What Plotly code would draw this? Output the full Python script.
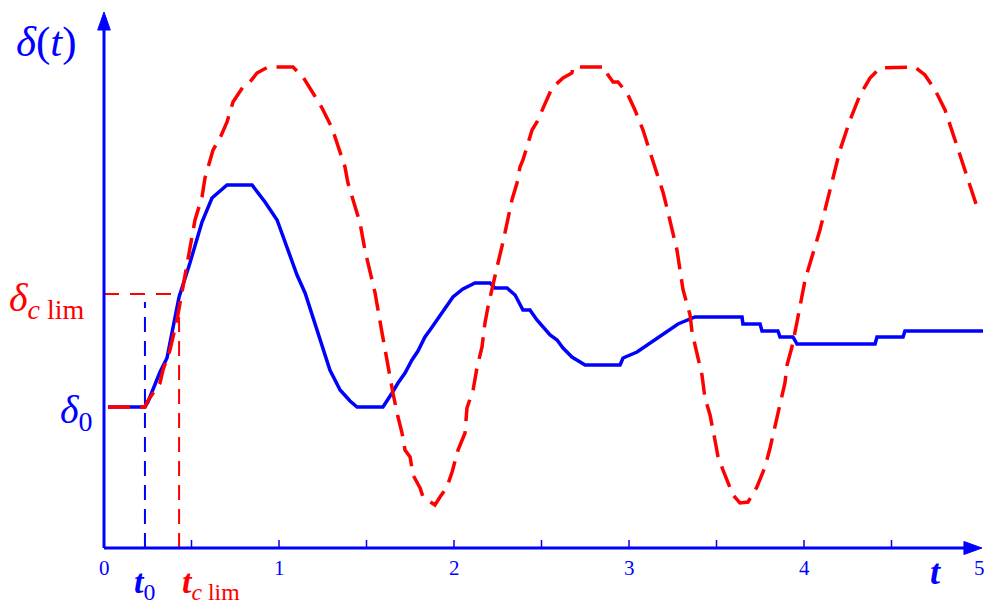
import plotly.graph_objects as go

# ---------------- data (t in time units, delta in arbitrary angle units) ----------------
blue_t = [0.023, 0.234, 0.251, 0.320, 0.360, 0.429, 0.491, 0.560, 0.617, 0.651, 0.703, 0.846,
          0.880, 0.920, 0.989, 1.046, 1.103, 1.149, 1.194, 1.234, 1.291, 1.349, 1.406, 1.446,
          1.594, 1.646, 1.680, 1.720, 1.760, 1.794, 1.834, 1.863, 1.909, 1.949, 1.994, 2.051,
          2.120, 2.206, 2.234, 2.303, 2.349, 2.394, 2.434, 2.474, 2.509, 2.549, 2.589, 2.623,
          2.674, 2.749, 2.949, 2.966, 3.046, 3.103, 3.160, 3.217, 3.280, 3.377, 3.646, 3.651,
          3.749, 3.760, 3.851, 3.863, 3.937, 3.960, 4.406, 4.417, 4.566, 4.577, 5.023]
blue_delta = [1.41, 1.41, 1.46, 1.76, 1.90, 2.51, 2.85, 3.26, 3.50, 3.55, 3.63, 3.63,
              3.55, 3.46, 3.28, 3.01, 2.73, 2.55, 2.31, 2.08, 1.78, 1.58, 1.47, 1.41,
              1.41, 1.55, 1.65, 1.75, 1.88, 1.97, 2.11, 2.18, 2.30, 2.39, 2.51, 2.59,
              2.65, 2.65, 2.60, 2.60, 2.53, 2.38, 2.38, 2.28, 2.21, 2.13, 2.08, 2.00,
              1.91, 1.83, 1.83, 1.90, 1.96, 2.03, 2.10, 2.16, 2.24, 2.31, 2.31, 2.24,
              2.24, 2.17, 2.17, 2.11, 2.11, 2.04, 2.04, 2.11, 2.11, 2.17, 2.17]

red_t = [0.023, 0.234, 0.246, 0.303, 0.320, 0.337, 0.377, 0.417, 0.434, 0.451, 0.480, 0.520,
         0.560, 0.577, 0.623, 0.663, 0.703, 0.737, 0.794, 0.834, 0.874, 0.937, 1.080, 1.137,
         1.194, 1.246, 1.303, 1.331, 1.377, 1.394, 1.434, 1.463, 1.491, 1.520, 1.549, 1.589,
         1.606, 1.634, 1.651, 1.680, 1.703, 1.720, 1.749, 1.766, 1.806, 1.823, 1.891, 1.920,
         1.960, 1.989, 2.023, 2.063, 2.074, 2.109, 2.131, 2.160, 2.177, 2.194, 2.223, 2.246,
         2.280, 2.303, 2.331, 2.360, 2.377, 2.394, 2.423, 2.446, 2.474, 2.503, 2.537, 2.560,
         2.623, 2.674, 2.680, 2.863, 2.880, 2.909, 2.937, 2.989, 3.034, 3.080, 3.120, 3.149,
         3.194, 3.217, 3.251, 3.274, 3.309, 3.349, 3.360, 3.394, 3.417, 3.434, 3.463, 3.491,
         3.509, 3.537, 3.566, 3.594, 3.634, 3.680, 3.731, 3.777, 3.806, 3.834, 3.863, 3.891,
         3.903, 3.931, 3.960, 3.989, 4.006, 4.091, 4.149, 4.206, 4.263, 4.320, 4.377, 4.434,
         4.634, 4.691, 4.749, 4.806, 4.863, 4.920, 5.000]
red_delta = [1.41, 1.41, 1.46, 1.60, 1.65, 1.78, 1.98, 2.28, 2.45, 2.61, 2.88, 3.28,
             3.51, 3.70, 3.98, 4.10, 4.26, 4.46, 4.61, 4.66, 4.75, 4.81, 4.81, 4.71,
             4.55, 4.40, 4.20, 4.05, 3.81, 3.65, 3.43, 3.25, 2.98, 2.78, 2.55, 2.15,
             1.98, 1.71, 1.55, 1.31, 1.15, 0.98, 0.91, 0.73, 0.60, 0.51, 0.43, 0.51,
             0.61, 0.76, 0.98, 1.15, 1.40, 1.58, 1.80, 2.01, 2.25, 2.41, 2.65, 2.81,
             3.06, 3.25, 3.48, 3.65, 3.81, 3.88, 4.05, 4.18, 4.26, 4.38, 4.51, 4.60,
             4.70, 4.75, 4.81, 4.81, 4.73, 4.66, 4.66, 4.55, 4.38, 4.18, 3.96, 3.81,
             3.56, 3.40, 3.15, 2.98, 2.58, 2.33, 2.16, 1.90, 1.73, 1.50, 1.33, 1.08,
             0.91, 0.78, 0.65, 0.53, 0.45, 0.46, 0.61, 0.81, 1.00, 1.21, 1.41, 1.65,
             1.83, 2.01, 2.26, 2.50, 2.68, 3.18, 3.58, 3.98, 4.28, 4.53, 4.70, 4.80,
             4.81, 4.73, 4.58, 4.38, 4.08, 3.78, 3.35]

delta0 = 1.41
delta_clim = 2.54
t0 = 0.234
t_clim = 0.429

tick_minor = [0.5, 1.0, 1.5, 2.0, 2.5, 3.0, 3.5, 4.0, 4.5]
tick_label_vals = [0, 1, 2, 3, 4, 5]
tick_label_text = ["0", "1", "2", "3", "4", "5"]

BLUE = "#0000FF"
RED = "#FF0000"
SERIF = "Liberation Serif, Times New Roman, serif"

# geometry: 175 px per t unit, 100 px per delta unit, origin at (104, 548)
W, H = 989, 604
X_RANGE = [-104 / 175, (W - 104) / 175]
Y_RANGE = [(548 - H) / 100, 548 / 100]

fig = go.Figure()

# reference dashed lines
fig.add_trace(go.Scatter(x=[0, t_clim], y=[delta_clim, delta_clim], mode="lines",
                         line=dict(color=RED, width=2, dash="15px,11px"), hoverinfo="skip"))
fig.add_trace(go.Scatter(x=[t_clim, t_clim], y=[0, delta_clim], mode="lines",
                         line=dict(color=RED, width=2, dash="15px,9px"), hoverinfo="skip"))
fig.add_trace(go.Scatter(x=[t0, t0], y=[0, delta_clim - 0.08], mode="lines",
                         line=dict(color=BLUE, width=2, dash="15px,9px"), hoverinfo="skip"))

# curves
fig.add_trace(go.Scatter(x=blue_t, y=blue_delta, mode="lines",
                         line=dict(color=BLUE, width=3.5), hoverinfo="skip"))
fig.add_trace(go.Scatter(x=red_t, y=red_delta, mode="lines",
                         line=dict(color=RED, width=3.5, dash="22px,10px"), hoverinfo="skip"))

shapes = []
# axes
shapes.append(dict(type="line", x0=0, x1=4.93, y0=0, y1=0, line=dict(color=BLUE, width=3)))
shapes.append(dict(type="line", x0=0, x1=0, y0=0, y1=5.2, line=dict(color=BLUE, width=3)))
# arrowheads
shapes.append(dict(type="path", path="M 4.914 0.065 L 5.017 0 L 4.914 -0.065 Z",
                   fillcolor=BLUE, line=dict(color=BLUE, width=1)))
shapes.append(dict(type="path", path="M -0.036 5.18 L 0 5.36 L 0.036 5.18 Z",
                   fillcolor=BLUE, line=dict(color=BLUE, width=1)))
# ticks
for tv in tick_minor:
    shapes.append(dict(type="line", x0=tv, x1=tv, y0=0, y1=0.08,
                       line=dict(color=BLUE, width=1.5)))

annotations = []
for v, s in zip(tick_label_vals, tick_label_text):
    annotations.append(dict(x=v, y=-0.2, text=s, showarrow=False, xanchor="center",
                            yanchor="middle", font=dict(family=SERIF, size=21, color=BLUE)))

annotations += [
    dict(x=-0.33, y=5.06, text="<i>δ</i>(<i>t</i>)", showarrow=False, xanchor="center",
         yanchor="middle", font=dict(family=SERIF, size=43, color=BLUE)),
    dict(x=-0.05, y=1.36, text="<i>δ</i><sub>0</sub>", showarrow=False, xanchor="right",
         yanchor="middle", font=dict(family=SERIF, size=40, color=BLUE)),
    dict(x=-0.095, y=2.48, text="<i>δ</i><sub><i>c</i> lim</sub>", showarrow=False,
         xanchor="right", yanchor="middle", font=dict(family=SERIF, size=40, color=RED)),
    dict(x=t0 - 0.005, y=-0.36, text="<i><b>t</b></i><sub>0</sub>", showarrow=False,
         xanchor="center", yanchor="middle", font=dict(family=SERIF, size=34, color=BLUE)),
    dict(x=0.61, y=-0.36, text="<i><b>t</b></i><sub><i>c</i> lim</sub>", showarrow=False,
         xanchor="center", yanchor="middle", font=dict(family=SERIF, size=34, color=RED)),
    dict(x=4.754, y=-0.24, text="<i><b>t</b></i>", showarrow=False, xanchor="center",
         yanchor="middle", font=dict(family=SERIF, size=36, color=BLUE)),
]

fig.update_layout(
    width=W, height=H,
    margin=dict(l=0, r=0, t=0, b=0),
    paper_bgcolor="white", plot_bgcolor="white",
    showlegend=False,
    xaxis=dict(range=X_RANGE, visible=False, fixedrange=True),
    yaxis=dict(range=Y_RANGE, visible=False, fixedrange=True),
    shapes=shapes,
    annotations=annotations,
)

# remove the default page margin so the figure sits at the window's top-left corner
fig.write_html("out.html",
               config={"displayModeBar": False},
               post_script="document.body.style.margin='0';document.body.style.overflow='hidden';")
